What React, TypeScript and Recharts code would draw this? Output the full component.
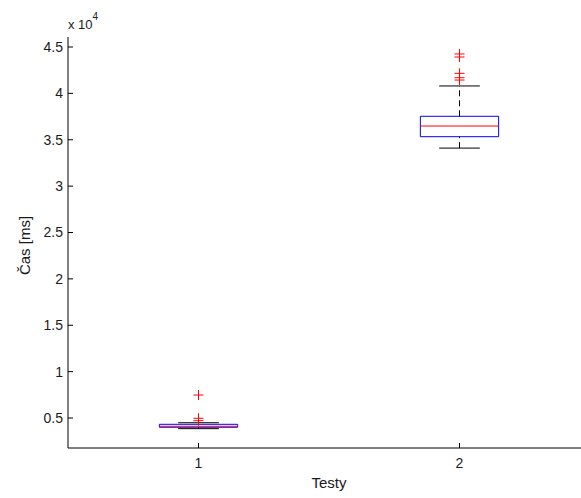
import React from 'react';
import {
  ComposedChart,
  Scatter,
  XAxis,
  YAxis,
  ReferenceArea,
  ReferenceLine,
  Label,
} from 'recharts';

// ── Data (ms) ───────────────────────────────────────────────

const groups = [1, 2];
const groupLabels = ['1', '2'];
const lowerWhisker = [3850, 34100];
const q1 = [4000, 35330];
const median = [4110, 36480];
const q3 = [4320, 37530];
const upperWhisker = [4490, 40800];

const outlierGroup = [1, 1, 1, 2, 2, 2, 2, 2];
const outlierValue = [7480, 4970, 4710, 44250, 43920, 42160, 41690, 41440];

const yTicks = [5000, 10000, 15000, 20000, 25000, 30000, 35000, 40000, 45000];

// ── Constants ───────────────────────────────────────────────

const BOX_HALF = 0.15;
const CAP_HALF = 0.078;
const FONT = '"Liberation Sans", Arial, sans-serif';
const AXIS_COLOR = '#000000';
const TEXT_COLOR = '#1a1a1a';

const outliers = outlierGroup.map((g, i) => ({x: g, y: outlierValue[i]}));

function PlusShape(props: any) {
  const {cx, cy} = props;
  if (cx == null || cy == null) return null;
  const s = 5;
  return (
    <g stroke="#ff0000" strokeWidth={1}>
      <line x1={cx - s} y1={cy} x2={cx + s} y2={cy} />
      <line x1={cx} y1={cy - s} x2={cx} y2={cy + s} />
    </g>
  );
}

export default function App() {
  return (
    <div style={{position: 'fixed', left: 0, top: 0, width: 581, height: 498, overflow: 'hidden', background: '#fff'}}>
      <ComposedChart
        width={600}
        height={498}
        data={outliers}
        margin={{top: 37, right: 10, left: 0, bottom: 20}}
        style={{fontFamily: FONT}}
      >
        {/* top box edge with inward ticks, no labels */}
        <XAxis
          xAxisId="top"
          orientation="top"
          type="number"
          dataKey="x"
          domain={[0.5, 2.5]}
          ticks={groups}
          height={0}
          tickSize={-5}
          tickFormatter={() => ''}
          axisLine={{stroke: AXIS_COLOR}}
          tickLine={{stroke: AXIS_COLOR}}
        />
        <XAxis
          type="number"
          dataKey="x"
          domain={[0.5, 2.5]}
          ticks={groups}
          tickFormatter={(v: number) => groupLabels[groups.indexOf(v)] ?? ''}
          height={30}
          tickSize={-5}
          tickMargin={15}
          axisLine={{stroke: AXIS_COLOR}}
          tickLine={{stroke: AXIS_COLOR}}
          tick={{fill: TEXT_COLOR, fontSize: 14}}
        >
          <Label
            content={({viewBox}: any) => (
              <text
                x={viewBox.x + viewBox.width / 2}
                y={488}
                textAnchor="middle"
                fontSize={15}
                fill={TEXT_COLOR}
              >
                Testy
              </text>
            )}
          />
        </XAxis>
        <YAxis
          type="number"
          dataKey="y"
          domain={[1766, 46078]}
          ticks={yTicks}
          allowDataOverflow
          width={68}
          tickSize={-5}
          tickMargin={10}
          tickFormatter={(v: number) => String(v / 10000)}
          axisLine={{stroke: AXIS_COLOR}}
          tickLine={{stroke: AXIS_COLOR}}
          tick={{fill: TEXT_COLOR, fontSize: 14}}
        >
          <Label
            content={({viewBox}: any) => {
              const cx = 30;
              const cy = viewBox.y + viewBox.height / 2 + 3;
              return (
                <text
                  x={cx}
                  y={cy}
                  transform={`rotate(-90, ${cx}, ${cy})`}
                  textAnchor="middle"
                  fontSize={15}
                  fill={TEXT_COLOR}
                >
                  Čas [ms]
                </text>
              );
            }}
          />
          <Label
            content={() => (
              <text x={68} y={29} fontSize={13} fill={TEXT_COLOR}>
                x 10
                <tspan dy={-9} fontSize={10}>4</tspan>
              </text>
            )}
          />
        </YAxis>

        {groups.map((g, i) => (
          <React.Fragment key={g}>
            <ReferenceLine
              segment={[{x: g, y: q3[i]}, {x: g, y: upperWhisker[i]}]}
              stroke="#000"
              strokeDasharray="6 4"
            />
            <ReferenceLine
              segment={[{x: g, y: lowerWhisker[i]}, {x: g, y: q1[i]}]}
              stroke="#000"
              strokeDasharray="6 4"
            />
            <ReferenceLine
              segment={[{x: g - CAP_HALF, y: upperWhisker[i]}, {x: g + CAP_HALF, y: upperWhisker[i]}]}
              stroke="#000"
            />
            <ReferenceLine
              segment={[{x: g - CAP_HALF, y: lowerWhisker[i]}, {x: g + CAP_HALF, y: lowerWhisker[i]}]}
              stroke="#000"
            />
            <ReferenceArea
              x1={g - BOX_HALF}
              x2={g + BOX_HALF}
              y1={q1[i]}
              y2={q3[i]}
              fill="none"
              fillOpacity={0}
              stroke="#0000ff"
              strokeOpacity={1}
            />
            <ReferenceLine
              segment={[{x: g - BOX_HALF, y: median[i]}, {x: g + BOX_HALF, y: median[i]}]}
              stroke="#ff0000"
            />
          </React.Fragment>
        ))}

        <Scatter data={outliers} dataKey="y" shape={<PlusShape />} isAnimationActive={false} />
      </ComposedChart>
    </div>
  );
}
